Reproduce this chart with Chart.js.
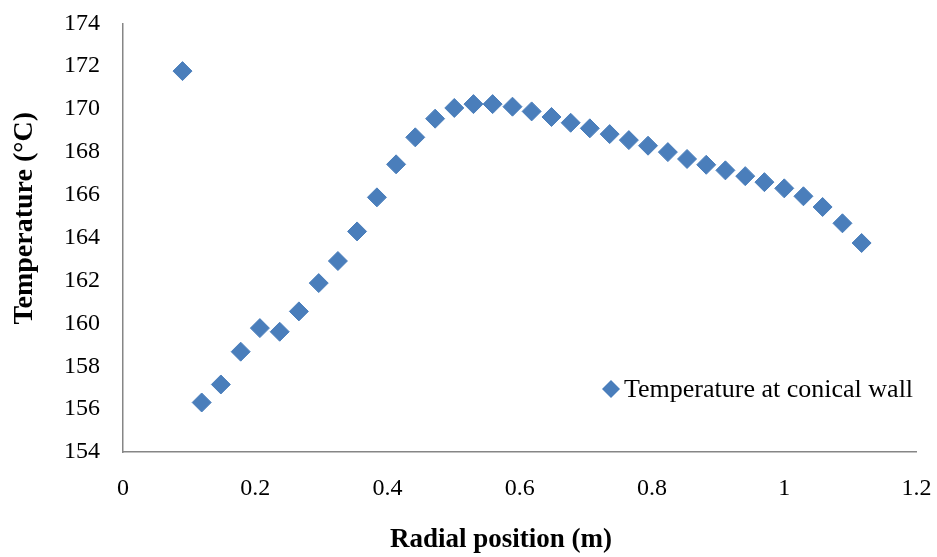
<!DOCTYPE html>
<html>
<head>
<meta charset="utf-8">
<script src="https://cdn.jsdelivr.net/npm/chart.js@4.4.1/dist/chart.umd.min.js"></script>
<style>
  html, body { margin: 0; padding: 0; background: #ffffff; }
  #wrap { width: 937px; height: 557px; }
</style>
</head>
<body>
<div id="wrap"><canvas id="chart" width="937" height="557"></canvas></div>
<script>
// Data
const radialPos = [0.090, 0.119, 0.148, 0.178, 0.207, 0.237, 0.266, 0.296, 0.325, 0.354,
                   0.384, 0.413, 0.442, 0.472, 0.501, 0.530, 0.559, 0.589, 0.618, 0.648,
                   0.677, 0.706, 0.736, 0.765, 0.794, 0.824, 0.853, 0.882, 0.911, 0.941,
                   0.970, 1.000, 1.029, 1.058, 1.088, 1.117];
const wallTemp = [171.77, 156.31, 157.15, 158.68, 159.78, 159.61, 160.56, 161.88, 162.91, 164.29,
                  165.88, 167.42, 168.68, 169.55, 170.05, 170.23, 170.23, 170.11, 169.89, 169.63,
                  169.36, 169.10, 168.83, 168.55, 168.29, 167.99, 167.67, 167.40, 167.14, 166.87,
                  166.59, 166.30, 165.93, 165.43, 164.67, 163.75];
const xTicks = [0, 0.2, 0.4, 0.6, 0.8, 1, 1.2];
const yTicks = [154, 156, 158, 160, 162, 164, 166, 168, 170, 172, 174];
const seriesName = 'Temperature at conical wall';
const xTitle = 'Radial position (m)';
const yTitle = 'Temperature (°C)';

const FONT = '"Liberation Serif", "Times New Roman", serif';
const BLUE = '#4a7ebb';
const AXIS = '#868686';

// Axis titles and legend are drawn on the canvas, placed like the Excel original
const decorPlugin = {
    id: 'decor',
    afterDraw(chart) {
        const ctx = chart.ctx;
        const area = chart.chartArea;
        ctx.save();
        ctx.fillStyle = '#000000';

        // x title
        ctx.font = 'bold 27px ' + FONT;
        ctx.textAlign = 'center';
        ctx.textBaseline = 'alphabetic';
        ctx.fillText(xTitle, area.left + 378, 547);

        // y title
        ctx.save();
        ctx.translate(32, area.top + 195);
        ctx.rotate(-Math.PI / 2);
        ctx.font = 'bold 28px ' + FONT;
        ctx.fillText(yTitle, 0, 0);
        ctx.restore();

        // legend (inside plot area)
        const lx = 611, ly = 389, r = 9;
        ctx.fillStyle = BLUE;
        ctx.beginPath();
        ctx.moveTo(lx, ly - r);
        ctx.lineTo(lx + r, ly);
        ctx.lineTo(lx, ly + r);
        ctx.lineTo(lx - r, ly);
        ctx.closePath();
        ctx.fill();
        ctx.fillStyle = '#000000';
        ctx.font = '26px ' + FONT;
        ctx.textAlign = 'left';
        ctx.fillText(seriesName, 624, 397);
        ctx.restore();
    }
};

const chart = new Chart(document.getElementById('chart').getContext('2d'), {
    type: 'scatter',
    data: {
        datasets: [{
            label: seriesName,
            data: radialPos.map((x, i) => ({ x: x, y: wallTemp[i] })),
            pointStyle: 'rectRot',
            pointRadius: 9.5,
            pointBorderWidth: 1,
            backgroundColor: BLUE,
            borderColor: BLUE
        }]
    },
    options: {
        responsive: false,
        animation: false,
        layout: { padding: { left: 0, right: 20.5, top: 23.3, bottom: 0 } },
        plugins: {
            legend: { display: false },
            tooltip: { enabled: false }
        },
        scales: {
            x: {
                type: 'linear',
                min: 0,
                max: 1.2,
                afterBuildTicks: axis => { axis.ticks = xTicks.map(v => ({ value: v })); },
                afterFit: scale => {
                    scale.height = 105;
                    scale.paddingLeft = 0;
                    scale.paddingRight = 0;
                },
                grid: { display: false, drawTicks: false },
                border: { display: true, color: AXIS, width: 1.5 },
                ticks: {
                    color: '#000000',
                    font: { family: FONT, size: 24 },
                    padding: 22,
                    maxRotation: 0,
                    callback: v => String(v)
                }
            },
            y: {
                type: 'linear',
                min: 154,
                max: 174,
                afterBuildTicks: axis => { axis.ticks = yTicks.map(v => ({ value: v })); },
                afterFit: scale => {
                    scale.width = 123;
                    scale.paddingTop = 0;
                    scale.paddingBottom = 0;
                },
                grid: { display: false, drawTicks: false },
                border: { display: true, color: AXIS, width: 1.5 },
                ticks: {
                    color: '#000000',
                    font: { family: FONT, size: 24 },
                    padding: 23,
                    callback: v => String(v)
                }
            }
        }
    },
    plugins: [decorPlugin]
});
</script>
</body>
</html>
